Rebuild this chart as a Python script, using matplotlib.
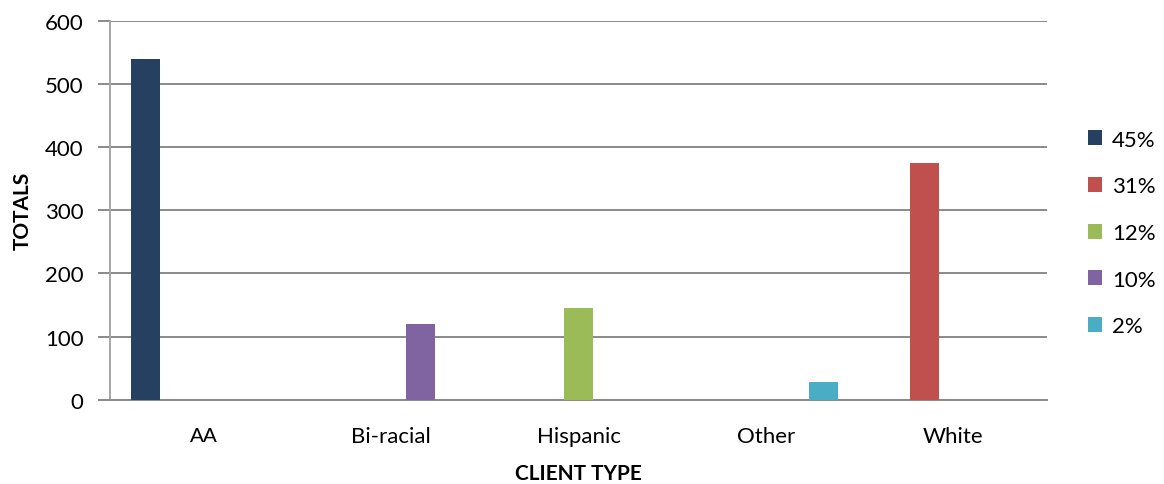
import matplotlib.pyplot as plt
import numpy as np

categories = ['AA', 'Bi-racial', 'Hispanic', 'Other', 'White']
series = ['45%', '31%', '12%', '10%', '2%']
values_45 = [540, 0, 0, 0, 0]
values_31 = [0, 0, 0, 0, 375]
values_12 = [0, 0, 145, 0, 0]
values_10 = [0, 120, 0, 0, 0]
values_2 = [0, 0, 0, 28, 0]
all_values = [values_45, values_31, values_12, values_10, values_2]
colors = ['#254061', '#C0504D', '#9BBB59', '#8064A2', '#4BACC6']

plt.rcParams['font.family'] = ['Lato', 'DejaVu Sans']

fig = plt.figure(figsize=(11.64, 4.85), dpi=100)
ax = fig.add_axes([0.0945, 0.1738, 0.805, 0.7815])

x = np.arange(len(categories))
w = 0.1547
for i, (vals, lab) in enumerate(zip(all_values, series)):
    ax.bar(x + (i - 2) * w, vals, width=w, color=colors[i], label=lab, zorder=3)

ax.set_xlim(-0.5, 4.5)
ax.set_ylim(0, 600)
ax.set_yticks(range(0, 601, 100))
ax.yaxis.grid(True, color='#8a8a8a', linewidth=1.4, zorder=0)
ax.set_xticks(x)
ax.set_xticklabels(categories, fontsize=16)
ax.get_xticklabels()[0].set_family(['Liberation Sans', 'DejaVu Sans'])
ax.get_xticklabels()[0].set_fontsize(15)
ax.tick_params(axis='x', length=0, pad=19)
ax.tick_params(axis='y', length=9, width=1.4, color='#8a8a8a', labelsize=16, pad=10)

for s in ['top', 'right']:
    ax.spines[s].set_visible(False)
ax.spines['left'].set_color('#a6a6a6')
ax.spines['left'].set_linewidth(1.4)
ax.spines['bottom'].set_color('#8a8a8a')
ax.spines['bottom'].set_linewidth(1.4)

ax.set_ylabel('TOTALS', fontsize=15, fontweight='bold', labelpad=9)
ax.set_xlabel('CLIENT TYPE', fontsize=15, fontweight='bold', labelpad=12)

ax.legend(loc='center left', bbox_to_anchor=(1.022, 0.44), frameon=False,
          fontsize=16, handlelength=0.65, handleheight=0.65, handletextpad=0.45,
          labelspacing=1.2)

fig.savefig('out.png', dpi=100)
